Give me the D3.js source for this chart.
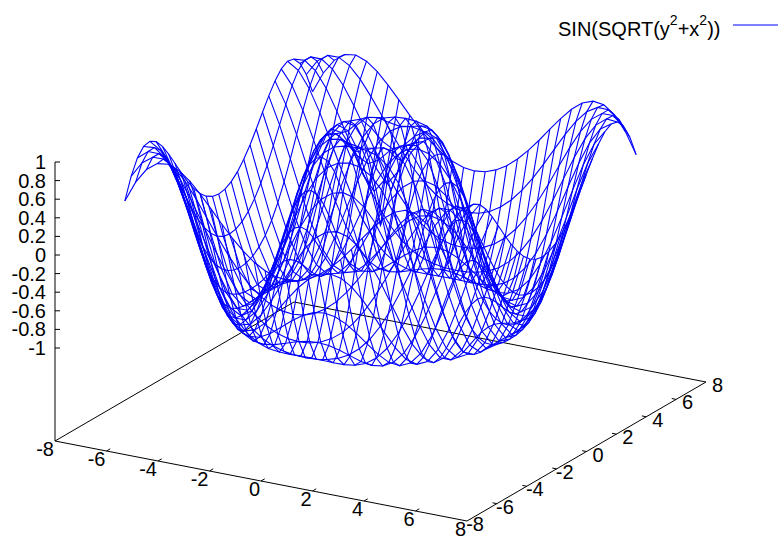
<!DOCTYPE html>
<html>
<head>
<meta charset="utf-8">
<script src="https://cdn.jsdelivr.net/npm/d3@7"></script>
<style>
	body { margin: 0; background: #fff; }
	svg { display: block; }
	text { font-family: "Liberation Sans", Arial, sans-serif; font-size: 20px; fill: #000; }
	.base { fill: none; stroke: #000; stroke-width: 1; }
	.surface { fill: none; stroke: #0000ff; stroke-width: 1.1; }
</style>
</head>
<body>
<svg id="chart" width="778" height="537"></svg>
<script>
const BLUE = '#0000ff';

const xTicks = [-8, -6, -4, -2, 0, 2, 4, 6, 8];
const yTicks = [-8, -6, -4, -2, 0, 2, 4, 6, 8];
const zTicks = [1, 0.8, 0.6, 0.4, 0.2, 0, -0.2, -0.4, -0.6, -0.8, -1];

// sample positions from the middle of the grid to its edge (the grid stops short of +-8)
const samples = [0, 0.419, 0.838, 1.257, 1.676, 2.094, 2.513, 2.932, 3.351, 3.77, 4.189, 4.608, 5.027, 5.445, 5.864, 6.283];

// surface heights, one wedge of the grid: row = larger offset from the middle, col = smaller one
const heights = [
	[0],
	[0.407, 0.558],
	[0.743, 0.806, 0.926],
	[0.951, 0.970, 0.998, 0.979],
	[0.995, 0.988, 0.955, 0.866, 0.698],
	[0.866, 0.845, 0.775, 0.644, 0.444, 0.179],
	[0.588, 0.559, 0.473, 0.326, 0.121, -0.130, -0.401],
	[0.208, 0.179, 0.092, -0.049, -0.233, -0.446, -0.660, -0.844],
	[-0.208, -0.233, -0.308, -0.424, -0.569, -0.724, -0.866, -0.967, -1.000],
	[-0.588, -0.606, -0.660, -0.740, -0.833, -0.921, -0.984, -0.998, -0.946, -0.814],
	[-0.866, -0.876, -0.904, -0.943, -0.980, -1.000, -0.985, -0.921, -0.795, -0.603, -0.352],
	[-0.995, -0.996, -1.000, -0.998, -0.982, -0.940, -0.860, -0.732, -0.553, -0.324, -0.056, 0.231],
	[-0.951, -0.946, -0.927, -0.892, -0.833, -0.743, -0.616, -0.448, -0.240, 0, 0.257, 0.510, 0.735],
	[-0.743, -0.732, -0.699, -0.640, -0.553, -0.434, -0.282, -0.098, 0.110, 0.333, 0.554, 0.751, 0.903, 0.988],
	[-0.407, -0.393, -0.352, -0.282, -0.183, -0.056, 0.097, 0.270, 0.454, 0.635, 0.798, 0.923, 0.992, 0.989, 0.905],
	[0, 0.014, 0.056, 0.124, 0.218, 0.333, 0.465, 0.606, 0.743, 0.865, 0.955, 0.998, 0.982, 0.896, 0.738, 0.513]
];

// each data axis moves a point both across and down the screen
const scale = {
	xAcross: d3.scaleLinear().domain([-8, 8]).range([0, 412]),
	xDown: d3.scaleLinear().domain([-8, 8]).range([0, 80]),
	yAcross: d3.scaleLinear().domain([-8, 8]).range([0, 239]),
	yDown: d3.scaleLinear().domain([-8, 8]).range([0, -139]),
	z: d3.scaleLinear().domain([-1, 1]).range([347.3, 161.3])
};
const ORIGIN_X = 55;
const ORIGIN_Y = 441;
const Z_FLOOR = -2;

function project(x, y, z) {
	return [
		ORIGIN_X + scale.xAcross(x) + scale.yAcross(y),
		ORIGIN_Y + scale.xDown(x) + scale.yDown(y) + scale.z(z) - scale.z(Z_FLOOR)
	];
}

function sample(i) {
	return i < 0 ? -samples[-i] : samples[i];
}

function height(i, j) {
	const a = Math.abs(i);
	const b = Math.abs(j);
	return heights[Math.max(a, b)][Math.min(a, b)];
}

const svg = d3.select('#chart');
const line = d3.line();
const steps = d3.range(-(samples.length - 1), samples.length);

function drawBase() {
	const g = svg.append('g').attr('class', 'base');
	const corners = [[-8, -8], [8, -8], [8, 8], [-8, 8], [-8, -8]];
	g.append('path').attr('d', line(corners.map(c => project(c[0], c[1], Z_FLOOR))));

	// z axis stands on the left corner
	g.append('path').attr('d', line([project(-8, -8, Z_FLOOR), project(-8, -8, 1)]));

	g.selectAll('.tick-x')
		.data(xTicks.slice(1, -1))
		.join('path')
		.attr('class', 'tick-x')
		.attr('d', d => line([project(d, -8, Z_FLOOR), project(d, -7.75, Z_FLOOR)]));

	g.selectAll('.tick-y')
		.data(yTicks.slice(1, -1))
		.join('path')
		.attr('class', 'tick-y')
		.attr('d', d => line([project(8, d, Z_FLOOR), project(7.83, d, Z_FLOOR)]));

	g.selectAll('.tick-z')
		.data(zTicks)
		.join('path')
		.attr('class', 'tick-z')
		.attr('d', d => {
			const p = project(-8, -8, d);
			return line([p, [p[0] + 5, p[1]]]);
		});
}

function drawLabels() {
	svg.selectAll('.label-x')
		.data(xTicks)
		.join('text')
		.attr('class', 'label-x')
		.attr('text-anchor', 'end')
		.attr('x', d => project(d, -8, Z_FLOOR)[0] - 1)
		.attr('y', d => project(d, -8, Z_FLOOR)[1] + 15)
		.text(d => d);

	svg.selectAll('.label-y')
		.data(yTicks)
		.join('text')
		.attr('class', 'label-y')
		.attr('text-anchor', 'end')
		.attr('x', d => project(8, d, Z_FLOOR)[0] + 17)
		.attr('y', d => project(8, d, Z_FLOOR)[1] + 10)
		.text(d => d);

	svg.selectAll('.label-z')
		.data(zTicks)
		.join('text')
		.attr('class', 'label-z')
		.attr('text-anchor', 'end')
		.attr('x', d => project(-8, -8, d)[0] - 9)
		.attr('y', d => project(-8, -8, d)[1] + 7)
		.text(d => d);
}

function drawSurface() {
	const g = svg.append('g').attr('class', 'surface');
	g.selectAll('.row')
		.data(steps)
		.join('path')
		.attr('class', 'row')
		.attr('d', i => line(steps.map(j => project(sample(i), sample(j), height(i, j)))));
	g.selectAll('.col')
		.data(steps)
		.join('path')
		.attr('class', 'col')
		.attr('d', j => line(steps.map(i => project(sample(i), sample(j), height(i, j)))));
}

function drawKey() {
	const key = svg.append('text').attr('x', 558).attr('y', 35.5);
	key.append('tspan').text('SIN(SQRT(y');
	key.append('tspan').attr('dy', -11).style('font-size', '14px').text('2');
	key.append('tspan').attr('dy', 11).text('+x');
	key.append('tspan').attr('dy', -11).style('font-size', '14px').text('2');
	key.append('tspan').attr('dy', 11).text('))');
	svg.append('path')
		.attr('d', line([[733, 25], [778, 25]]))
		.attr('fill', 'none')
		.attr('stroke', BLUE);
}

drawBase();
drawLabels();
drawSurface();
drawKey();
</script>
</body>
</html>
